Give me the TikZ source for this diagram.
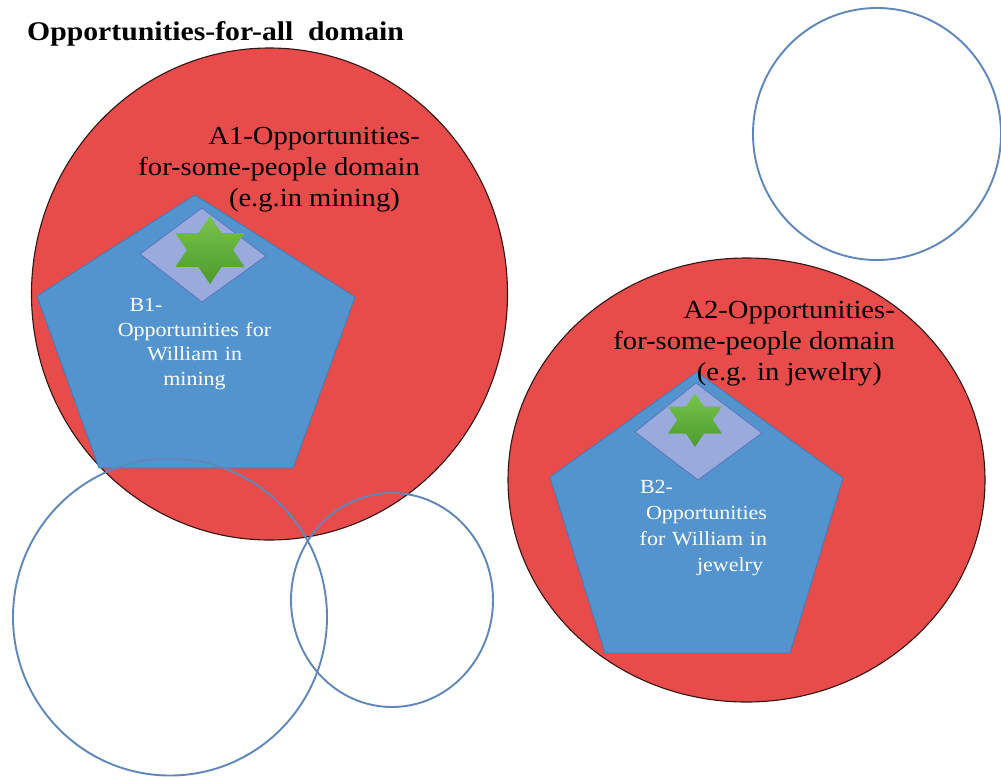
\documentclass[tikz,border=0pt]{standalone}
\usepackage{fontspec}
\setmainfont{Liberation Serif}
\newfontfamily\wideserif[FakeStretch=1.1]{Liberation Serif}
\definecolor{redA}{RGB}{231,76,74}
\definecolor{redline}{RGB}{50,20,20}
\definecolor{blueP}{RGB}{84,148,206}
\definecolor{bluePline}{RGB}{65,125,185}
\definecolor{lav}{RGB}{155,170,220}
\definecolor{lavline}{RGB}{90,120,190}
\definecolor{starTop}{RGB}{120,195,75}
\definecolor{starBot}{RGB}{75,155,45}
\definecolor{ringblue}{RGB}{95,135,185}
\newcommand\hexstar[6]{% cx cy rx ry irx iry
  \begin{scope}[shift={(#1,#2)}]
    \shade[starsty] (90:#3 and #4) -- (120:#5 and #6) -- (150:#3 and #4) -- (180:#5 and #6)
      -- (210:#3 and #4) -- (240:#5 and #6) -- (270:#3 and #4) -- (300:#5 and #6)
      -- (330:#3 and #4) -- (0:#5 and #6) -- (30:#3 and #4) -- (60:#5 and #6) -- cycle;
  \end{scope}}
\begin{document}
\begin{tikzpicture}[x=1pt,y=-1pt,
  redarea/.style={fill=redA, draw=redline, line width=1.1pt},
  bluepent/.style={fill=blueP, draw=bluePline, line width=0.9pt},
  diam/.style={fill=lav, draw=lavline, line width=0.9pt},
  starsty/.style={top color=starTop, bottom color=starBot},
  ring/.style={draw=ringblue, line width=1.9pt},
  atext/.style={font=\wideserif\fontsize{26}{31}\selectfont, text=black, inner sep=0pt, align=right},
  btext/.style={font=\wideserif\fontsize{20}{24.7}\selectfont, text=white, inner sep=0pt},
  titletext/.style={font=\wideserif\bfseries\fontsize{27}{31}\selectfont, text=black, inner sep=0pt}]
\useasboundingbox (0,0) rectangle (1001,777);
\fill[white] (0,0) rectangle (1001,777);

% large red domains
\filldraw[redarea] (269.5,294) ellipse [x radius=238, y radius=246];
\filldraw[redarea] (746.5,480) ellipse [x radius=238.5, y radius=222];

% pentagon B1
\filldraw[bluepent] (195,195) -- (355,297) -- (293,468) -- (99,468) -- (37,296) -- cycle;
\filldraw[diam] (202,208) -- (266,256) -- (202,302) -- (140,254) -- cycle;
\hexstar{210}{250}{40}{34}{23.1}{19.6}

% pentagon B2
\filldraw[bluepent] (697,372) -- (843,478) -- (790,653) -- (605,653) -- (550,477) -- cycle;
\filldraw[diam] (696,383) -- (762,433) -- (698,480) -- (635,432) -- cycle;
\hexstar{695}{420}{31}{27}{17.9}{15.6}

% texts
\node[titletext, anchor=base west] (title) at (27,40) {Opportunities-for-all\ \ domain};
\node[atext, anchor=east] (a1) at (420,170)
  {A1-Opportunities-\\for-some-people domain\hspace*{7pt}\\(e.g.in mining)\hspace*{20pt}};
\node[atext, anchor=east] (a2) at (895,344)
  {A2-Opportunities-\\for-some-people domain\hspace*{5pt}\\(e.g. in jewelry)\hspace*{13pt}};
\node[btext, text width=160pt, align=center] (b1) at (194.5,344)
  {\makebox[160pt][l]{\hspace*{15pt}B1-}\\Opportunities for\\William in\\mining};
\node[btext, font=\wideserif\fontsize{20}{26}\selectfont, text width=132pt, align=right] (b2) at (701,528)
  {\makebox[132pt][l]{\hspace*{5pt}B2-}\\Opportunities\hspace*{2pt}\\for William in\\jewelry\hspace*{4pt}};

% open circles
\draw[ring] (877,134) ellipse [x radius=124, y radius=126];
\draw[ring] (170,617) ellipse [x radius=157, y radius=158.5];
\draw[ring] (392,600) ellipse [x radius=101, y radius=107];
\end{tikzpicture}
\end{document}
